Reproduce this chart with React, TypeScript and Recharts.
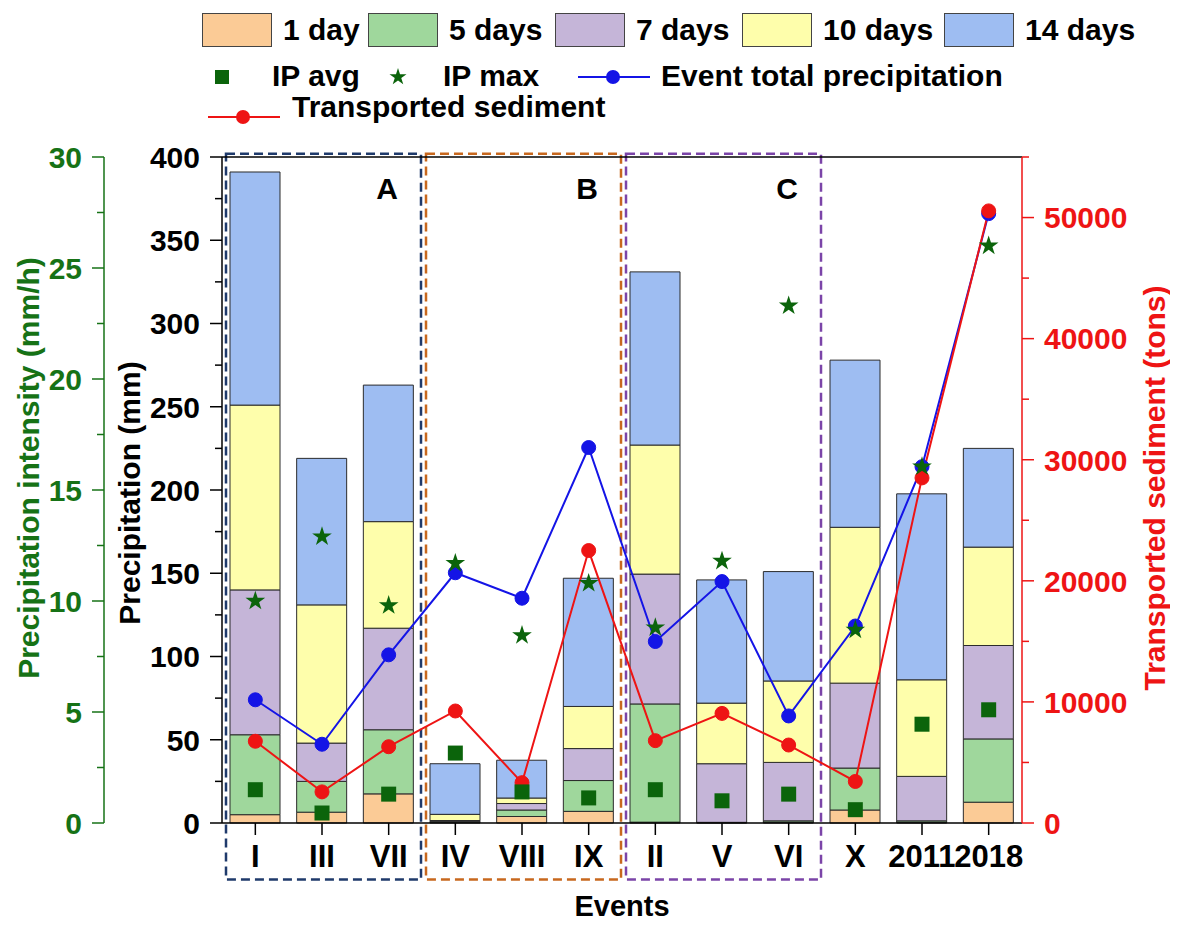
import { ComposedChart, Bar, Line, Scatter, XAxis, YAxis, ReferenceArea, ReferenceLine, Symbols } from 'recharts'

const FONT = "'Liberation Sans', Arial, Helvetica, sans-serif"

const events = ['I', 'III', 'VII', 'IV', 'VIII', 'IX', 'II', 'V', 'VI', 'X', '2011', '2018']

// antecedent precipitation (mm), cumulative per window
const day1 = [5, 6.5, 17.5, 0.5, 3.9, 7, 0.5, 0.2, 0.5, 7.8, 0.5, 12.5]
const day5 = [53, 25, 56, 1, 7.8, 25.5, 71.5, 0.4, 1.3, 33, 1.3, 50.5]
const day7 = [140, 48, 117, 1.5, 11.7, 44.7, 149.5, 35.6, 36.4, 84, 28, 106.6]
const day10 = [251, 131, 181, 5.2, 15, 70, 227, 72, 85.3, 177.6, 86, 165.7]
const day14 = [391, 219, 263, 35.6, 37.7, 147, 331, 146, 151, 278, 197.7, 225]

// precipitation intensity (mm/h)
const ipAvg = [1.5, 0.45, 1.3, 3.15, 1.4, 1.13, 1.5, 1.0, 1.3, 0.6, 4.45, 5.1]
const ipMax = [10.0, 12.9, 9.8, 11.7, 8.45, 10.8, 8.8, 11.8, 23.3, 8.7, 16.05, 26.0]

const totalPrecip = [74, 47.3, 101, 150.3, 135, 225.5, 109, 145, 64.3, 118.3, 214, 366]
const sediment = [6750, 2570, 6300, 9250, 3330, 22500, 6800, 9050, 6440, 3430, 28500, 50550]

const mmTicks = [0, 25, 50, 75, 100, 125, 150, 175, 200, 225, 250, 275, 300, 325, 350, 375, 400]
const ipTicks = [0, 2.5, 5, 7.5, 10, 12.5, 15, 17.5, 20, 22.5, 25, 27.5, 30]
const sedTicks = [0, 5000, 10000, 15000, 20000, 25000, 30000, 35000, 40000, 45000, 50000, 55000]

const dayLabels = ['1 day', '5 days', '7 days', '10 days', '14 days']
const dayColors = ['#fbcb96', '#9fd79c', '#c5b5d8', '#fefeab', '#9ebdf2']

const groups = [
  { name: 'A', from: 'I', to: 'VII', color: '#1f3a6b' },
  { name: 'B', from: 'IV', to: 'IX', color: '#c8681e' },
  { name: 'C', from: 'II', to: 'VI', color: '#7b44a8' },
]

const GREEN = '#167216'
const RED = '#ee1414'
const BLUE = '#1414e6'

const data = events.map((ev, i) => ({
  event: ev,
  d1: day1[i],
  d5: day5[i] - day1[i],
  d7: day7[i] - day5[i],
  d10: day10[i] - day7[i],
  d14: day14[i] - day10[i],
  ipAvg: ipAvg[i],
  ipMax: ipMax[i],
  total: totalPrecip[i],
  sed: sediment[i],
}))
const stackKeys = ['d1', 'd5', 'd7', 'd10', 'd14']

function YTick(props: any) {
  const { x, y, payload, side, color, step } = props
  const v = payload.value
  const major = Math.abs(v / step - Math.round(v / step)) < 1e-6
  const dir = side === 'left' ? -1 : 1
  const len = major ? 12 : 7
  return (
    <g>
      <line x1={x} y1={y} x2={x + dir * len} y2={y} stroke={color} strokeWidth={1.5} />
      {major && (
        <text x={x + dir * 22} y={y} dy="0.36em" textAnchor={side === 'left' ? 'end' : 'start'}
          fill={color} fontFamily={FONT} fontWeight="bold" fontSize={30}>
          {v}
        </text>
      )}
    </g>
  )
}

function XTick(props: any) {
  const { x, y, payload } = props
  return (
    <g>
      <line x1={x} y1={y} x2={x} y2={y + 12} stroke="#000" strokeWidth={1.5} />
      <text x={x} y={y + 33} dy="0.36em" textAnchor="middle" fill="#000" fontFamily={FONT} fontWeight="bold" fontSize={31}>
        {payload.value}
      </text>
    </g>
  )
}

function axisTitle(text: string, color: string, dxFromLeft: number, dyShift: number) {
  return (props: any) => {
    const vb = props.viewBox
    const cx = vb.x + dxFromLeft
    const cy = vb.y + vb.height / 2 + dyShift
    return (
      <text x={cx} y={cy} dy="0.36em" textAnchor="middle" transform={`rotate(-90, ${cx}, ${cy})`}
        fill={color} fontFamily={FONT} fontWeight="bold" fontSize={30}>
        {text}
      </text>
    )
  }
}

function boxShape(color: string) {
  return (props: any) => {
    const { x, y, width, height } = props
    return (
      <rect x={x + 4} y={y} width={width - 5} height={height} fill="none" stroke={color}
        strokeWidth={2.5} strokeDasharray="9 5" />
    )
  }
}

function square(props: any) {
  return <Symbols cx={props.cx} cy={props.cy} type="square" size={225} fill="#0b640b" />
}

function star(props: any) {
  return <Symbols cx={props.cx} cy={props.cy} type="star" size={120} fill="#0b640b" />
}

function LegendBox() {
  const swatchLeft = [194, 360, 547, 734, 936]
  const txt = { position: 'absolute' as const, fontFamily: FONT, fontWeight: 'bold' as const, fontSize: 30, lineHeight: '30px', color: '#000', whiteSpace: 'nowrap' as const }
  return (
    <div style={{ position: 'absolute', left: 0, top: 0, width: 1162, height: 140 }}>
      {dayLabels.map((l, i) => (
        <div key={l}>
          <div style={{ position: 'absolute', left: swatchLeft[i], top: 5, width: 70, height: 34, boxSizing: 'border-box', background: dayColors[i], border: '1.5px solid #444' }} />
          <div style={{ ...txt, left: swatchLeft[i] + 81, top: 7 }}>{l}</div>
        </div>
      ))}
      <svg style={{ position: 'absolute', left: 0, top: 0 }} width={1162} height={140}>
        <rect x={207} y={62} width={14} height={14} fill="#0b640b" />
        <Symbols cx={390} cy={69} type="star" size={90} fill="#0b640b" />
        <line x1={570} y1={69} x2={642} y2={69} stroke={BLUE} strokeWidth={2} />
        <circle cx={605} cy={69} r={7} fill={BLUE} />
        <line x1={200} y1={109} x2={272} y2={109} stroke={RED} strokeWidth={2} />
        <circle cx={235} cy={109} r={7} fill={RED} />
      </svg>
      <div style={{ ...txt, left: 264, top: 53 }}>IP avg</div>
      <div style={{ ...txt, left: 435, top: 53 }}>IP max</div>
      <div style={{ ...txt, left: 653, top: 53 }}>Event total precipitation</div>
      <div style={{ ...txt, left: 284, top: 84 }}>Transported sediment</div>
    </div>
  )
}

export default function App() {
  return (
    <div style={{ position: 'relative', width: 1162, height: 917 }}>
      <ComposedChart width={1162} height={917} data={data} margin={{ top: 149, right: 0, bottom: 0, left: 0 }}>
        <XAxis dataKey="event" interval={0} height={102} tickSize={0} tickMargin={0}
          axisLine={{ stroke: '#000', strokeWidth: 1.5 }} tickLine={false} tick={(p: any) => <XTick {...p} />}
          label={{ content: (p: any) => (
            <text x={p.viewBox.x + p.viewBox.width / 2} y={p.viewBox.y + 83} dy="0.36em" textAnchor="middle"
              fontFamily={FONT} fontWeight="bold" fontSize={29} fill="#000">Events</text>
          ) }} />
        <YAxis yAxisId="precip" orientation="left" width={118} domain={[0, 400]} ticks={mmTicks} interval={0}
          tickSize={0} tickMargin={0} tickLine={false} axisLine={{ stroke: '#000', strokeWidth: 1.5 }}
          tick={(p: any) => <YTick {...p} side="left" color="#000" step={50} />}
          label={{ content: axisTitle('Precipitation (mm)', '#000', 25, 3) }} />
        <YAxis yAxisId="rate" orientation="left" width={96} domain={[0, 30]} ticks={ipTicks} interval={0}
          tickSize={0} tickMargin={0} tickLine={false} axisLine={{ stroke: GREEN, strokeWidth: 1.5 }}
          tick={(p: any) => <YTick {...p} side="left" color={GREEN} step={5} />}
          label={{ content: axisTitle('Precipitation intensity (mm/h)', GREEN, 20, -22) }} />
        <YAxis yAxisId="sed" orientation="right" width={148} domain={[0, 55000]} ticks={sedTicks} interval={0}
          tickSize={0} tickMargin={0} tickLine={false} axisLine={{ stroke: RED, strokeWidth: 1.5 }}
          tick={(p: any) => <YTick {...p} side="right" color={RED} step={10000} />}
          label={{ content: axisTitle('Transported sediment (tons)', RED, 132, -2) }} />

        <ReferenceLine yAxisId="precip" y={400} stroke="#000" strokeWidth={1.5} />

        {stackKeys.map((k, i) => (
          <Bar key={k} yAxisId="precip" dataKey={k} stackId="p" barSize={50} fill={dayColors[i]}
            stroke="#2b2b2b" strokeWidth={1} isAnimationActive={false} />
        ))}

        {groups.map((g) => (
          <ReferenceArea key={g.name} yAxisId="precip" x1={g.from} x2={g.to} y1={-34} y2={402} ifOverflow="visible"
            shape={boxShape(g.color)}
            label={{ value: g.name, position: 'insideTopRight', offset: 24, fill: '#000', fontSize: 30, fontWeight: 'bold', fontFamily: FONT }} />
        ))}

        <Line yAxisId="precip" dataKey="total" stroke={BLUE} strokeWidth={2}
          dot={{ r: 7, fill: BLUE, stroke: BLUE, strokeWidth: 1 }} activeDot={false} isAnimationActive={false} />
        <Line yAxisId="sed" dataKey="sed" stroke={RED} strokeWidth={2}
          dot={{ r: 7, fill: RED, stroke: RED, strokeWidth: 1 }} activeDot={false} isAnimationActive={false} />
        <Scatter yAxisId="rate" dataKey="ipAvg" shape={square} isAnimationActive={false} />
        <Scatter yAxisId="rate" dataKey="ipMax" shape={star} isAnimationActive={false} />
      </ComposedChart>
      <LegendBox />
    </div>
  )
}
